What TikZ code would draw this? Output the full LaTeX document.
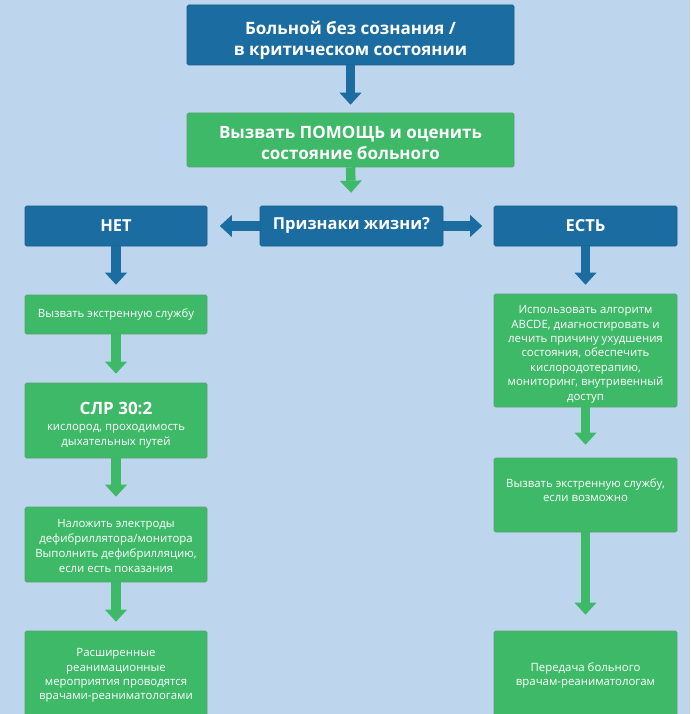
\documentclass[tikz,border=0pt]{standalone}
\usepackage{fontspec}
\setmainfont{Open Sans}
\newfontfamily\headfont{Open Sans}
\usetikzlibrary{arrows.meta}
\definecolor{bg}{RGB}{189,214,238}
\definecolor{dblue}{RGB}{27,108,160}
\definecolor{lgreen}{RGB}{62,185,104}
\newcommand\vshift[2]{\raisebox{#1}[\height][\depth]{\begin{tabular}{@{}c@{}}#2\end{tabular}}}
\begin{document}
\begin{tikzpicture}[x=1pt,y=-1pt,
  box/.style={rounded corners=1.5pt, line width=0.6pt, text=white, align=center, inner sep=0pt, anchor=center},
  bluebox/.style={box, fill=dblue, draw=dblue!85!black},
  greenbox/.style={box, fill=lgreen, draw=lgreen!60!gray},
  headtxt/.style={font=\headfont\bfseries\fontsize{17}{21}\selectfont},
  rowtxt/.style={font=\headfont\bfseries\fontsize{16.5}{20}\selectfont},
  smalltxt/.style={font=\fontsize{11.4}{14.4}\selectfont},
  barrow/.style={line width=9.5pt, -{Triangle[width=22pt,length=12pt,line width=0pt]}},
]
\useasboundingbox (0,0) rectangle (690,714);
\fill[bg] (0,0) rectangle (690,714);
\clip (0,0) rectangle (690,714);

% top part
\node[bluebox, headtxt, minimum width=327pt, minimum height=60pt] (top) at (350.5,35)
  {\vshift{-5.5pt}{Больной без сознания /\\в критическом состоянии}};
\node[greenbox, headtxt, minimum width=327pt, minimum height=54pt] (help) at (350.5,140)
  {\vshift{-4.5pt}{Вызвать ПОМОЩЬ и оценить\\состояние больного}};

% decision row
\node[bluebox, rowtxt, minimum width=182pt, minimum height=40pt] (net) at (116,226) {НЕТ};
\node[bluebox, rowtxt, minimum width=183pt, minimum height=40pt] (signs) at (351.5,226) {Признаки жизни?};
\node[bluebox, rowtxt, minimum width=183pt, minimum height=40pt] (est) at (585.5,226) {ЕСТЬ};

% left column
\node[greenbox, smalltxt, minimum width=182pt, minimum height=39pt] (l1) at (116,314.5)
  {Вызвать экстренную службу};
\node[greenbox, smalltxt, minimum width=182pt, minimum height=75pt] (l2) at (116,420.5)
  {\vshift{-5.5pt}{{\headfont\bfseries\fontsize{17}{18}\selectfont СЛР 30:2}\\[1.5pt]кислород, проходимость\\дыхательных путей}};
\node[greenbox, smalltxt, minimum width=182pt, minimum height=75pt] (l3) at (116,544.5)
  {\vshift{-2.5pt}{Наложить электроды\\[0.5pt]дефибриллятора/монитора\\[0.5pt]Выполнить дефибрилляцию,\\[0.5pt]если есть показания}};
\node[greenbox, smalltxt, minimum width=182pt, minimum height=89pt] (l4) at (116,675.5)
  {Расширенные\\реанимационные\\мероприятия проводятся\\врачами-реаниматологами};

% right column
\node[greenbox, smalltxt, minimum width=183pt, minimum height=113pt] (r1) at (585.5,350.5)
  {\vshift{-3.5pt}{Использовать алгоритм\\ABCDE, диагностировать и\\лечить причину ухудшения\\состояния, обеспечить\\кислородотерапию,\\мониторинг, внутривенный\\доступ}};
\node[greenbox, smalltxt, minimum width=183pt, minimum height=74pt] (r2) at (585.5,495)
  {\vshift{3.5pt}{Вызвать экстренную службу,\\если возможно}};
\node[greenbox, smalltxt, minimum width=183pt, minimum height=89pt] (r3) at (585.5,675.5)
  {Передача больного\\врачам-реаниматологам};

% connectors
\draw[barrow, dblue, shorten >=8pt] (top.south) -- (help.north);
\draw[barrow, lgreen, shorten >=13pt] (help.south) -- (signs.north);
\draw[barrow, dblue, shorten >=12.5pt] (signs.west) -- (net.east);
\draw[barrow, dblue, shorten >=11.5pt] (signs.east) -- (est.west);
\draw[barrow, dblue, shorten >=10pt] (net.south) -- (l1.north);
\draw[barrow, lgreen, shorten >=9pt] (l1.south) -- (l2.north);
\draw[barrow, lgreen, shorten >=10pt] (l2.south) -- (l3.north);
\draw[barrow, lgreen, shorten >=9pt] (l3.south) -- (l4.north);
\draw[barrow, dblue, shorten >=9pt] (est.south) -- (r1.north);
\draw[barrow, lgreen, shorten >=13pt] (r1.south) -- (r2.north);
\draw[barrow, lgreen, shorten >=16pt] (r2.south) -- (r3.north);
\end{tikzpicture}
\end{document}
